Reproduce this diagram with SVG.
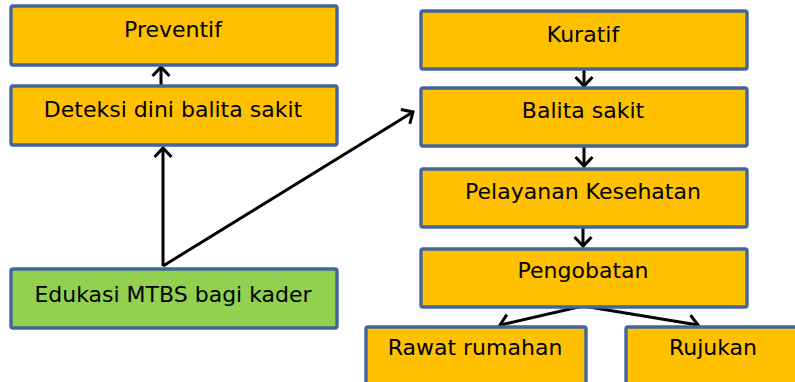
<svg xmlns="http://www.w3.org/2000/svg" width="795" height="382" viewBox="0 0 795 382">
<style>
.box{fill:#FFC000;stroke:#41679A;stroke-width:3.4}
.green{fill:#92D050}
.lbl{font-family:"DejaVu Sans",sans-serif;font-size:22px;fill:#000;text-anchor:middle}
.con{stroke:#000;stroke-width:3;fill:none;marker-end:url(#ah)}
</style>
<defs>
<marker id="ah" markerUnits="userSpaceOnUse" markerWidth="24" markerHeight="24" viewBox="-12 -12 16 24" refX="0" refY="0" orient="auto">
<path d="M-9,-8.5 L0,0 L-9,8.5" fill="none" stroke="#000" stroke-width="3"/>
</marker>
</defs>
<g id="connectors">
<line class="con" x1="161" y1="85" x2="161" y2="67"/>
<line class="con" x1="163" y1="266" x2="163" y2="148"/>
<polyline class="con" points="163,266 413,112"/>
<line class="con" x1="584" y1="70" x2="584" y2="86"/>
<line class="con" x1="584" y1="147" x2="584" y2="166"/>
<line class="con" x1="583" y1="228" x2="583" y2="246"/>
<line class="con" x1="583" y1="306" x2="500" y2="325"/>
<line class="con" x1="583" y1="306" x2="698" y2="325"/>
</g>
<g id="preventif"><rect class="box" x="11" y="6" width="326" height="59" rx="2"/><text class="lbl" x="173" y="37">Preventif</text></g>
<g id="deteksi"><rect class="box" x="11" y="86" width="326" height="59" rx="2"/><text class="lbl" x="173" y="117">Deteksi dini balita sakit</text></g>
<g id="edukasi"><rect class="box green" x="11" y="269" width="326" height="59" rx="2"/><text class="lbl" x="173" y="302">Edukasi MTBS bagi kader</text></g>
<g id="kuratif"><rect class="box" x="421" y="11" width="326" height="58" rx="2"/><text class="lbl" x="583" y="42">Kuratif</text></g>
<g id="balita"><rect class="box" x="421" y="88" width="326" height="58" rx="2"/><text class="lbl" x="583" y="118">Balita sakit</text></g>
<g id="pelayanan"><rect class="box" x="421" y="169" width="326" height="58" rx="2"/><text class="lbl" x="583" y="199">Pelayanan Kesehatan</text></g>
<g id="pengobatan"><rect class="box" x="421" y="249" width="326" height="58" rx="2"/><text class="lbl" x="583" y="278">Pengobatan</text></g>
<g id="rawat"><rect class="box" x="366" y="327" width="220" height="60" rx="2"/><text class="lbl" x="475" y="355">Rawat rumahan</text></g>
<g id="rujukan"><rect class="box" x="626" y="327" width="176" height="60" rx="2"/><text class="lbl" x="713" y="355">Rujukan</text></g>
</svg>
